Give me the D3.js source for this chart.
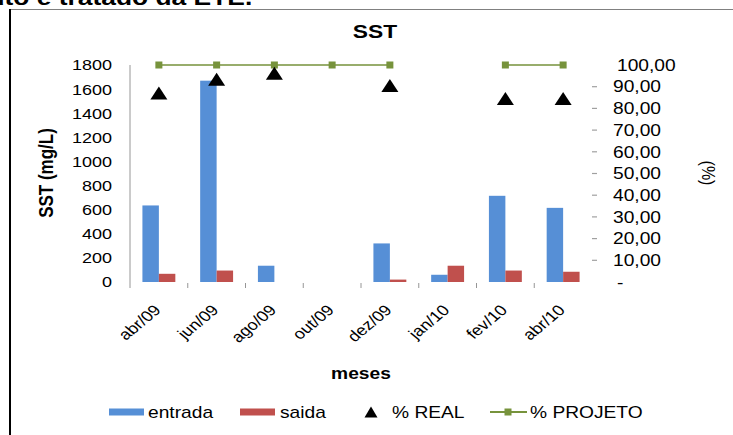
<!DOCTYPE html>
<html>
<head>
<meta charset="utf-8">
<script src="https://cdn.jsdelivr.net/npm/d3@7"></script>
<style>
  html, body { margin: 0; padding: 0; background: #fff; overflow: hidden; }
  svg { display: block; }
  text { font-family: "Liberation Sans", Arial, sans-serif; fill: #000; }
</style>
</head>
<body>
<svg id="chart" width="733" height="435"></svg>
<script>
// Monthly suspended solids (SST) at the plant inlet/outlet and removal efficiency
const months = ["abr/09", "jun/09", "ago/09", "out/09", "dez/09", "jan/10", "fev/10", "abr/10"];
const entrada = [635, 1670, 135, null, 320, 60, 715, 615];
const saida = [68, 95, null, null, 20, 135, 95, 85];
const pctReal = [87.1, 93.4, 96.2, null, 90.6, null, 84.6, 84.6];
const pctProjeto = [100, 100, 100, 100, 100, null, 100, 100];
const leftTicks = [0, 200, 400, 600, 800, 1000, 1200, 1400, 1600, 1800];
const rightTicks = [0, 10, 20, 30, 40, 50, 60, 70, 80, 90, 100];

const BLUE = "#568fd6", RED = "#c0504d", GREEN = "#77933c", AXIS = "#8c8c8c";

// The whole figure is drawn in a narrower frame and stretched horizontally.
const SX = 1.2;
const X = px => px / SX;

const svg = d3.select("#chart");
const g = svg.append("g").attr("transform", `scale(${SX},1)`);

// Caption line above the chart frame (partly outside the page)
g.append("text")
  .attr("x", X(-38)).attr("y", 5)
  .attr("font-size", 22).attr("font-weight", "bold")
  .text("bruto e tratado da ETE.");

// Chart frame
g.append("line").attr("x1", X(10)).attr("x2", X(733)).attr("y1", 9.5).attr("y2", 9.5)
  .attr("stroke", "#808080").attr("stroke-width", 1.2);
g.append("line").attr("x1", X(10)).attr("x2", X(10)).attr("y1", 9).attr("y2", 435)
  .attr("stroke", "#000").attr("stroke-width", 2 / SX);

// Scales
const x = d3.scaleBand().domain(months).range([X(130), X(592)]).padding(0);
const yL = d3.scaleLinear().domain([0, 1800]).range([282, 65]);
const yR = d3.scaleLinear().domain([0, 100]).range([282, 65]);
const bw = x.bandwidth();
const barW = bw * 0.285;
const cx = m => x(m) + bw / 2;

// Title
g.append("text").attr("x", X(375)).attr("y", 38)
  .attr("text-anchor", "middle").attr("font-size", 19).attr("font-weight", "bold")
  .text("SST");

// Left axis line and labels
g.append("line").attr("x1", X(130)).attr("x2", X(130)).attr("y1", yL(1800)).attr("y2", 288)
  .attr("stroke", AXIS).attr("stroke-width", 1 / SX);
g.append("g").selectAll("text").data(leftTicks).join("text")
  .attr("x", X(112)).attr("y", d => yL(d)).attr("dy", "0.36em")
  .attr("text-anchor", "end").attr("font-size", 15)
  .text(d => d);

// Category separator ticks along the bottom
g.append("g").selectAll("line").data(months.slice(1)).join("line")
  .attr("x1", d => x(d)).attr("x2", d => x(d))
  .attr("y1", 283).attr("y2", 288)
  .attr("stroke", AXIS).attr("stroke-width", 1 / SX);

// Right axis ticks and labels
g.append("g").selectAll("line").data(rightTicks.filter(d => d > 0 && d < 100)).join("line")
  .attr("x1", X(592)).attr("x2", X(597))
  .attr("y1", d => yR(d)).attr("y2", d => yR(d))
  .attr("stroke", "#a0a0a0").attr("stroke-width", 1.2);
const fmt = d => d === 0 ? "-" : d3.format(".2f")(d).replace(".", ",");
g.append("g").selectAll("text").data(rightTicks).join("text")
  .attr("x", d => X(d === 100 || d === 0 ? 617 : 613)).attr("y", d => yR(d)).attr("dy", "0.36em")
  .attr("text-anchor", "start").attr("font-size", 16)
  .text(fmt);

// Bars
g.append("g").selectAll("rect").data(months.map((m, i) => ({ m, v: entrada[i] })).filter(d => d.v != null))
  .join("rect")
  .attr("x", d => cx(d.m) - barW).attr("width", barW)
  .attr("y", d => yL(d.v)).attr("height", d => yL(0) - yL(d.v))
  .attr("fill", BLUE);
g.append("g").selectAll("rect").data(months.map((m, i) => ({ m, v: saida[i] })).filter(d => d.v != null))
  .join("rect")
  .attr("x", d => cx(d.m)).attr("width", barW)
  .attr("y", d => yL(d.v)).attr("height", d => yL(0) - yL(d.v))
  .attr("fill", RED);

// % PROJETO line with square markers
const projData = months.map((m, i) => ({ m, v: pctProjeto[i] }));
g.append("path")
  .datum(projData)
  .attr("fill", "none").attr("stroke", GREEN).attr("stroke-width", 1.5)
  .attr("d", d3.line().defined(d => d.v != null).x(d => cx(d.m)).y(d => yR(d.v)));
const sq = 7;
g.append("g").selectAll("rect").data(projData.filter(d => d.v != null)).join("rect")
  .attr("x", d => cx(d.m) - X(sq) / 2).attr("y", d => yR(d.v) - sq / 2)
  .attr("width", X(sq)).attr("height", sq)
  .attr("fill", GREEN);

// % REAL triangles
const tri = (w, h) => `M0,${-h / 2}L${w / 2},${h / 2}L${-w / 2},${h / 2}Z`;
g.append("g").selectAll("path")
  .data(months.map((m, i) => ({ m, v: pctReal[i] })).filter(d => d.v != null))
  .join("path")
  .attr("transform", d => `translate(${cx(d.m)},${yR(d.v)})`)
  .attr("d", tri(X(17), 13))
  .attr("fill", "#000");

// Category labels, rotated
g.append("g").selectAll("text").data(months).join("text")
  .attr("transform", d => `translate(${cx(d) + X(3)},311) rotate(-45)`)
  .attr("text-anchor", "end").attr("font-size", 15)
  .text(d => d);

// Axis titles
g.append("text").attr("x", X(361)).attr("y", 379)
  .attr("text-anchor", "middle").attr("font-size", 16).attr("font-weight", "bold")
  .text("meses");
g.append("text")
  .attr("transform", `translate(${X(53)},173) rotate(-90)`)
  .attr("text-anchor", "middle").attr("font-size", 17).attr("font-weight", "bold")
  .text("SST (mg/L)");
g.append("text")
  .attr("transform", `translate(${X(702)},173) rotate(90)`)
  .attr("text-anchor", "middle").attr("font-size", 16)
  .text("(%)");

// Legend
const leg = g.append("g");
const legY = 412;
leg.append("rect").attr("x", X(109)).attr("y", legY - 3.5).attr("width", X(35)).attr("height", 7).attr("fill", BLUE);
leg.append("text").attr("x", X(148)).attr("y", legY).attr("dy", "0.36em").attr("font-size", 16).text("entrada");
leg.append("rect").attr("x", X(240)).attr("y", legY - 3.5).attr("width", X(35)).attr("height", 7).attr("fill", RED);
leg.append("text").attr("x", X(280)).attr("y", legY).attr("dy", "0.36em").attr("font-size", 16).text("saida");
leg.append("path").attr("transform", `translate(${X(371)},${legY})`).attr("d", tri(X(13), 11)).attr("fill", "#000");
leg.append("text").attr("x", X(392)).attr("y", legY).attr("dy", "0.36em").attr("font-size", 16).text("% REAL");
leg.append("line").attr("x1", X(490)).attr("x2", X(527)).attr("y1", legY).attr("y2", legY)
  .attr("stroke", GREEN).attr("stroke-width", 2);
leg.append("rect").attr("x", X(508) - X(sq) / 2).attr("y", legY - sq / 2).attr("width", X(sq)).attr("height", sq).attr("fill", GREEN);
leg.append("text").attr("x", X(530)).attr("y", legY).attr("dy", "0.36em").attr("font-size", 16).text("% PROJETO");
</script>
</body>
</html>
